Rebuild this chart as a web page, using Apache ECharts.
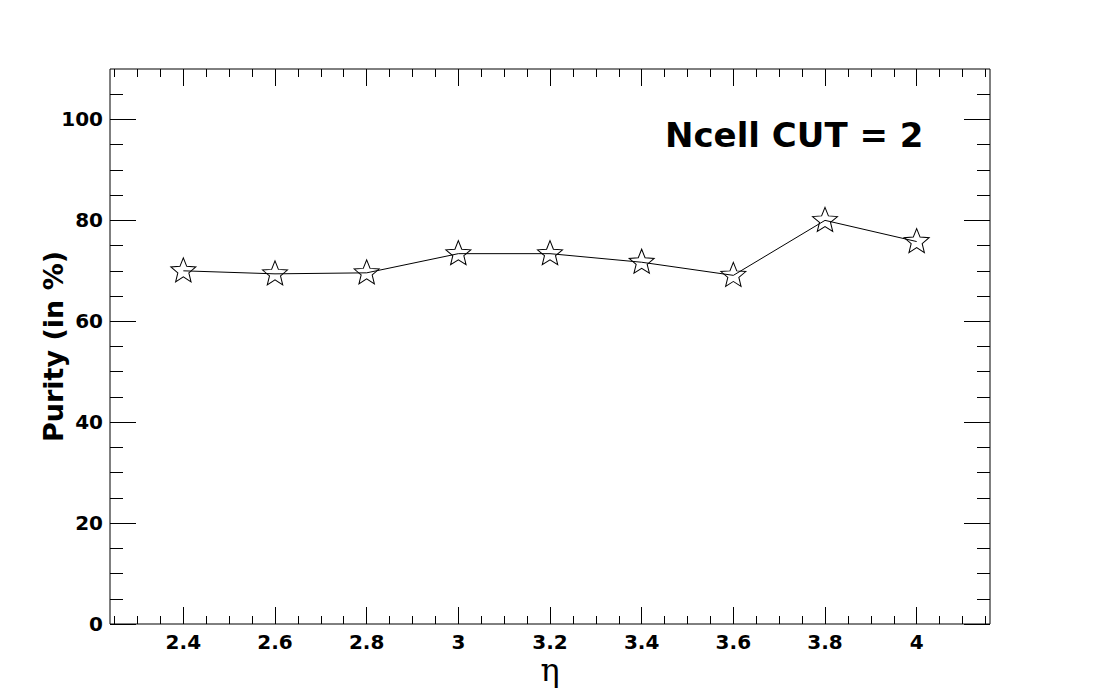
<!DOCTYPE html>
<html>
<head>
<meta charset="utf-8">
<script src="https://cdn.jsdelivr.net/npm/echarts@6/dist/echarts.min.js"></script>
<style>
html,body{margin:0;padding:0;background:#fff;}
#main{width:1101px;height:694px;}
</style>
</head>
<body>
<div id="main"></div>
<script>
// ---- data ----
const etaValues = [2.4, 2.6, 2.8, 3.0, 3.2, 3.4, 3.6, 3.8, 4.0];
const purityValues = [70.0, 69.4, 69.6, 73.4, 73.4, 71.7, 69.1, 80.0, 75.8];

// ---- axis ticks / labels ----
const xMajorTicks = [2.4, 2.6, 2.8, 3.0, 3.2, 3.4, 3.6, 3.8, 4.0];
const xMinorTicks = [2.25, 2.3, 2.35, 2.45, 2.5, 2.55, 2.65, 2.7, 2.75, 2.85, 2.9, 2.95,
  3.05, 3.1, 3.15, 3.25, 3.3, 3.35, 3.45, 3.5, 3.55, 3.65, 3.7, 3.75, 3.85, 3.9, 3.95,
  4.05, 4.1, 4.15];
const yMajorTicks = [0, 20, 40, 60, 80, 100];
const yMinorTicks = [5, 10, 15, 25, 30, 35, 45, 50, 55, 65, 70, 75, 85, 90, 95, 105];
const xRange = [2.24, 4.16];
const yRange = [0, 110];

const titleText = 'Ncell CUT = 2';
const xTitle = 'η';
const yTitle = 'Purity (in %)';

const starPath = 'path://M50 0 L62.93 32.20 L97.55 34.55 L70.92 56.80 L79.39 90.45 L50 72 L20.61 90.45 L29.08 56.80 L2.45 34.55 L37.07 32.20 Z';

const chart = echarts.init(document.getElementById('main'), null, {renderer: 'svg'});

const fmt = v => String(Math.round(v * 10) / 10);

function xAxisDef(position, ticks, len, withLabel) {
  return {
    type: 'value', position: position, min: xRange[0], max: xRange[1],
    axisLine: {show: false, onZero: false},
    splitLine: {show: false},
    axisTick: {show: true, inside: true, length: len, customValues: ticks,
      lineStyle: {color: '#000', width: 1}},
    axisLabel: withLabel ? {
      show: true, customValues: ticks, formatter: fmt, margin: 8,
      color: '#000', fontFamily: 'DejaVu Sans', fontWeight: 'bold', fontSize: 20
    } : {show: false},
    name: withLabel ? xTitle : '',
    nameLocation: 'middle', nameGap: 30, nameMoveOverlap: false,
    nameTextStyle: {fontFamily: 'DejaVu Serif', fontSize: 32, color: '#000'}
  };
}
function yAxisDef(position, ticks, len, withLabel) {
  return {
    type: 'value', position: position, min: yRange[0], max: yRange[1],
    axisLine: {show: false, onZero: false},
    splitLine: {show: false},
    axisTick: {show: true, inside: true, length: len, customValues: ticks,
      lineStyle: {color: '#000', width: 1}},
    axisLabel: withLabel ? {
      show: true, customValues: ticks, formatter: fmt, margin: 7,
      color: '#000', fontFamily: 'DejaVu Sans', fontWeight: 'bold', fontSize: 20
    } : {show: false},
    name: withLabel ? yTitle : '',
    nameLocation: 'middle', nameGap: 43, nameRotate: 90, nameMoveOverlap: false,
    nameTextStyle: {fontFamily: 'DejaVu Sans', fontWeight: 'bold', fontSize: 27, color: '#000'}
  };
}

const option = {
  backgroundColor: '#fff',
  animation: false,
  grid: {left: 110, right: 111, top: 69, bottom: 70, show: true,
    borderColor: '#000', borderWidth: 1, backgroundColor: 'transparent'},
  xAxis: [
    xAxisDef('bottom', xMajorTicks, 17, true),
    xAxisDef('bottom', xMinorTicks, 8, false),
    xAxisDef('top', xMajorTicks, 17, false),
    xAxisDef('top', xMinorTicks, 8, false)
  ],
  yAxis: [
    yAxisDef('left', yMajorTicks, 26, true),
    yAxisDef('left', yMinorTicks, 13, false),
    yAxisDef('right', yMajorTicks, 26, false),
    yAxisDef('right', yMinorTicks, 13, false)
  ],
  graphic: [{
    type: 'text', left: 665, top: 118,
    style: {text: titleText, fill: '#000', font: 'bold 34px "DejaVu Sans"'}
  }],
  series: [{
    type: 'line',
    xAxisIndex: 0, yAxisIndex: 0,
    data: etaValues.map((e, i) => [e, purityValues[i]]),
    symbol: starPath, symbolSize: [25, 24], symbolKeepAspect: false,
    symbolOffset: [0, -1],
    lineStyle: {color: '#000', width: 1},
    itemStyle: {color: 'rgba(0,0,0,0)', borderColor: '#000', borderWidth: 1},
    emphasis: {disabled: true},
    z: 5
  }]
};
chart.setOption(option);
</script>
</body>
</html>
